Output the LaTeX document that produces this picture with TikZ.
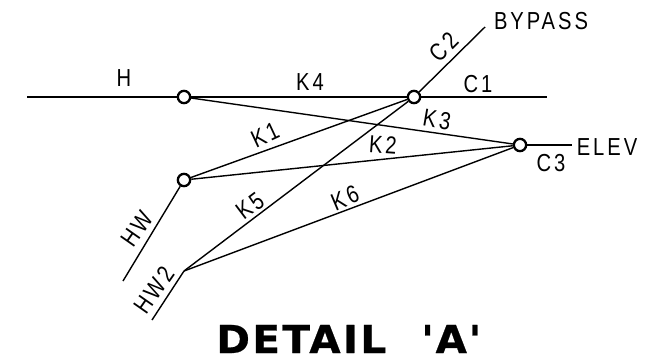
\documentclass[tikz,border=0pt]{standalone}
\usepackage{fontspec}
\setmainfont{Liberation Sans}
\newfontfamily\cadfont[LetterSpace=12,FakeStretch=0.82]{Liberation Sans}
\newfontfamily\titlefont[LetterSpace=6,FakeBold=0.6,FakeStretch=1.05]{DejaVu Sans Bold}
\usetikzlibrary{calc}

\begin{document}
\begin{tikzpicture}[x=0.02cm,y=-0.02cm]
    \tikzset{
        joint/.style={draw,circle,line width=1.3pt,inner sep=0pt,minimum size=7pt},
        line/.style={draw,line width=0.8pt},
        tag/.style={inner sep=0pt,font=\cadfont\fontsize{14}{14}\selectfont},
    };
    \useasboundingbox (0,0) rectangle (661,362);
    \node [joint] (h1) at (184,97) {};
    \node [joint] (c1) at (414,97) {};
    \node [joint] (e1) at (520,145) {};
    \node [joint] (w1) at (184,180) {};
    \coordinate (h0) at (27,97);
    \coordinate (c2) at (547,97);
    \coordinate (by) at (485,27);
    \coordinate (e2) at (572,145);
    \coordinate (w0) at (123,281);
    \coordinate (w2) at (184,271);
    \coordinate (w3) at (152,320);

    \path [line] (h0)--(h1);
    \path [line] (h1)--(c1);
    \path [line] (c1)--(c2);
    \path [line] (c1)--(by);
    \path [line] (h1)--(e1);
    \path [line] (e1)--(e2);
    \path [line] (w1)--(c1);
    \path [line] (w1)--(e1);
    \path [line] (w1)--(w0);
    \path [line] (w2)--(c1);
    \path [line] (w2)--(e1);
    \path [line] (w2)--(w3);

    \node [tag] (th) at (124,78) {H};
    \node [tag] (tk4) at (310,82) {K4};
    \node [tag] (tc1) at (478,84) {C1};
    \node [tag] (tby) at (541,21) {BYPASS};
    \node [tag,rotate=45] (tc2) at (444,47) {C2};
    \node [tag,rotate=-10] (tk3) at (437,120) {K3};
    \node [tag,rotate=25] (tk1) at (265,135) {K1};
    \node [tag,rotate=-4] (tk2) at (383,145) {K2};
    \node [tag] (tel) at (607,147) {ELEV};
    \node [tag] (tc3) at (551,163) {C3};
    \node [tag,rotate=37] (tk5) at (250,206) {K5};
    \node [tag,rotate=23] (tk6) at (345,198) {K6};
    \node [tag,rotate=55] (thw) at (137,229) {HW};
    \node [tag,rotate=55] (thw2) at (154,290) {HW2};
    \node [inner sep=0pt,anchor=west,font=\titlefont\fontsize{22}{22}\selectfont] (title) at (216,339) {DETAIL\hspace{20pt}'\kern1pt A\kern1pt'};
\end{tikzpicture}
\end{document}
